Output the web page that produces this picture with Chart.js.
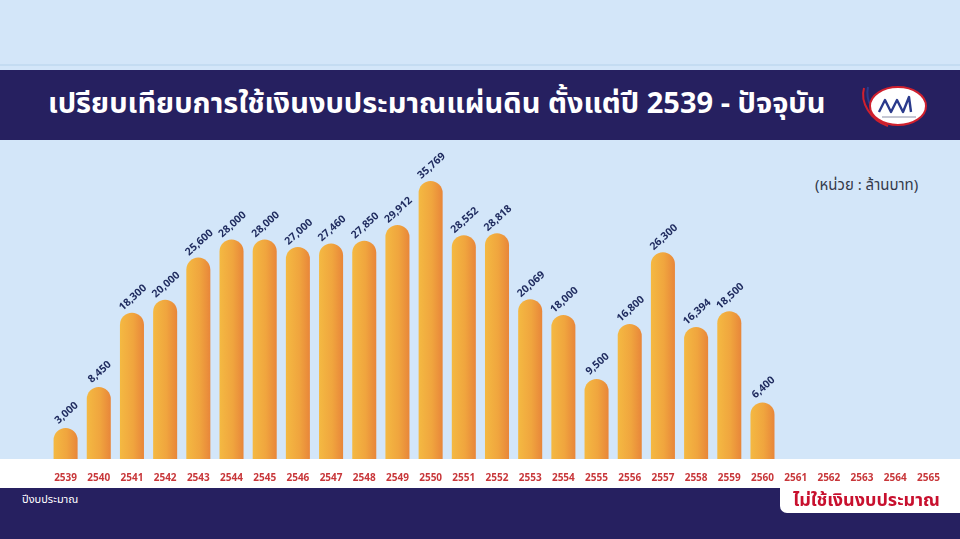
<!DOCTYPE html>
<html lang="th">
<head>
<meta charset="utf-8">
<title>เปรียบเทียบการใช้เงินงบประมาณแผ่นดิน</title>
<script src="https://cdn.jsdelivr.net/npm/chart.js@4/dist/chart.umd.min.js"></script>
<style>
  html, body { margin: 0; padding: 0; }
  body { width: 960px; height: 539px; overflow: hidden; font-family: "Noto Sans Thai", "Noto Sans", sans-serif; }
  #page { position: relative; width: 960px; height: 539px; background: #d3e6f9; }
  #chart { position: absolute; left: 0; top: 0; }
  .titlebar { position: absolute; left: 0; top: 70px; width: 960px; height: 70px; background: #262060; }
  .topline { position: absolute; left: 0; top: 64px; width: 960px; height: 2px; background: #c4dcf2; }
  .title { position: absolute; left: 48px; top: 69px; height: 70px; line-height: 70px; color: #fff; font-size: 29px; font-weight: bold; white-space: nowrap; }
  .logo { position: absolute; left: 858px; top: 82px; }
  .unit { position: absolute; left: 815px; top: 174px; color: #333a4a; font-size: 15px; white-space: nowrap; }
  .footer { position: absolute; left: 0; top: 488px; width: 960px; height: 51px; background: #262060; }
  .footer-label { position: absolute; left: 22px; top: 491px; color: #fff; font-size: 11px; }
  .note { position: absolute; left: 780px; top: 488px; width: 180px; height: 25px; background: #fff; border-bottom-left-radius: 7px; }
  .note span { position: absolute; left: 13px; top: 0; line-height: 25px; color: #c8102e; font-size: 18px; font-weight: bold; white-space: nowrap; }
</style>
</head>
<body>
<div id="page">
  <div class="topline"></div>
  <div class="titlebar"></div>
  <div class="title">เปรียบเทียบการใช้เงินงบประมาณแผ่นดิน ตั้งแต่ปี 2539 - ปัจจุบัน</div>
  <svg class="logo" width="72" height="48" viewBox="0 0 72 48">
    <path d="M6 6 C 2 20, 12 38, 30 44" fill="none" stroke="#d0202e" stroke-width="2"/>
    <path d="M10 5 C 7 18, 15 34, 30 41" fill="none" stroke="#2a3a8c" stroke-width="2"/>
    <ellipse cx="40" cy="24" rx="28" ry="19" fill="#fff" stroke="#d0202e" stroke-width="2"/>
    <polyline points="21,30 27,18 33,30 39,18 45,30 51,15 53,30" fill="none" stroke="#2a3a8c" stroke-width="2.4" stroke-linejoin="round"/>
    <line x1="24" y1="35" x2="58" y2="35" stroke="#8a8fa8" stroke-width="1"/>
  </svg>
  <div class="unit">(หน่วย : ล้านบาท)</div>
  <canvas id="chart" width="960" height="539"></canvas>
  <div class="footer"></div>
  <div class="footer-label">ปีงบประมาณ</div>
  <div class="note"><span>ไม่ใช้เงินงบประมาณ</span></div>
</div>
<script>
// fiscal years (Buddhist era)
const years = ['2539', '2540', '2541', '2542', '2543', '2544', '2545', '2546', '2547',
    '2548', '2549', '2550', '2551', '2552', '2553', '2554', '2555', '2556', '2557',
    '2558', '2559', '2560', '2561', '2562', '2563', '2564', '2565'];

// budget used, million baht (none from 2561 on)
const budget = [3000, 8450, 18300, 20000, 25600, 28000, 28000, 27000, 27460,
    27850, 29912, 35769, 28552, 28818, 20069, 18000, 9500, 16800, 26300,
    16394, 18500, 6400, null, null, null, null, null];

const Y_MIN = -1100;
const Y_MAX = 40000;

// white strip under the bars where the years sit
const stripPlugin = {
    id: 'strip',
    beforeDraw(chart) {
        const { ctx, chartArea } = chart;
        ctx.save();
        ctx.fillStyle = '#ffffff';
        ctx.fillRect(0, chartArea.bottom, chart.width, 488 - chartArea.bottom);
        ctx.restore();
    }
};

// rotated value labels above each bar
const valueLabels = {
    id: 'valueLabels',
    afterDatasetsDraw(chart) {
        const ctx = chart.ctx;
        const meta = chart.getDatasetMeta(0);
        ctx.save();
        ctx.font = 'bold 10.5px "Noto Sans", sans-serif';
        ctx.fillStyle = '#1e2a5e';
        ctx.textAlign = 'center';
        ctx.textBaseline = 'middle';
        meta.data.forEach((bar, i) => {
            const v = budget[i];
            if (v == null) return;
            ctx.save();
            ctx.translate(bar.x + 1, bar.y - 15);
            ctx.rotate(-42 * Math.PI / 180);
            ctx.fillText(v.toLocaleString('en-US'), 0, 0);
            ctx.restore();
        });
        ctx.restore();
    }
};

const barFill = (c) => {
    const chart = c.chart;
    if (!chart.chartArea) return '#efa23d';
    const x = chart.scales.x.getPixelForValue(c.dataIndex);
    const g = chart.ctx.createLinearGradient(x - 12, 0, x + 12, 0);
    g.addColorStop(0, '#f4b942');
    g.addColorStop(0.55, '#f0a53e');
    g.addColorStop(1, '#e8863a');
    return g;
};

new Chart(document.getElementById('chart'), {
    type: 'bar',
    data: {
        labels: years,
        datasets: [{
            data: budget,
            backgroundColor: barFill,
            base: Y_MIN,
            borderRadius: { topLeft: 12, topRight: 12, bottomLeft: 0, bottomRight: 0 },
            borderSkipped: false,
            barPercentage: 0.724,
            categoryPercentage: 1
        }]
    },
    options: {
        responsive: false,
        animation: false,
        events: [],
        layout: { padding: { left: 49, right: 15, top: 149, bottom: 50 } },
        plugins: { legend: { display: false }, tooltip: { enabled: false } },
        scales: {
            x: {
                grid: { display: false },
                border: { display: false },
                ticks: {
                    color: '#c8373a',
                    font: { family: '"Noto Sans", sans-serif', size: 10, weight: 'bold' },
                    padding: 5,
                    maxRotation: 0,
                    autoSkip: false
                }
            },
            y: {
                display: false,
                min: Y_MIN,
                max: Y_MAX
            }
        }
    },
    plugins: [stripPlugin, valueLabels]
});
</script>
</body>
</html>
